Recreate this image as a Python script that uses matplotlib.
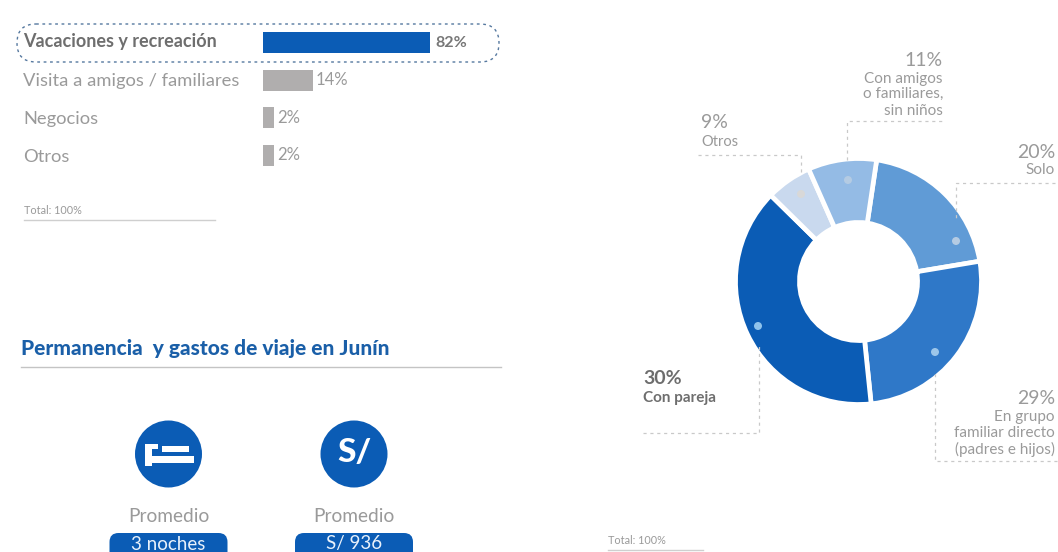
import matplotlib
matplotlib.use("Agg")
import matplotlib.pyplot as plt
from matplotlib.patches import Circle, FancyBboxPatch, Rectangle

# ---- data ----
motive_labels = ["Vacaciones y recreación", "Visita a amigos / familiares", "Negocios", "Otros"]
motive_values = ["82%", "14%", "2%", "2%"]
# drawn bar lengths (the original bars are not proportional to their labels)
motive_drawn = [82, 24.5, 5.5, 5.5]

group_names = ["Solo", "En grupo familiar directo", "Con pareja", "Otros", "Con amigos"]
# drawn slice shares
group_drawn = [20, 26, 39, 6, 9]
group_colors = ["#609bd6", "#2f78c8", "#0b5cb5", "#c9d9ee", "#94bbe5"]

title = "Permanencia  y gastos de viaje en Junín"
avg_label = "Promedio"
avg_values = ["3 noches", "S/ 936"]
total_label = "Total: 100%"

BLUE = "#0b5cb5"
GREY = "#9a9a9a"
FONT = "Lato"
plt.rcParams["font.family"] = [FONT, "DejaVu Sans"]

W, H = 1058, 552
fig = plt.figure(figsize=(W / 100, H / 100), dpi=100, facecolor="white")


def px_axes(left, top, right, bottom, **kw):
    return fig.add_axes([left / W, 1 - bottom / H, (right - left) / W, (bottom - top) / H], **kw)


# overlay in pixel units for the annotation furniture
ov = px_axes(0, 0, W, H)
ov.set_xlim(0, W)
ov.set_ylim(H, 0)
ov.axis("off")
ov.set_zorder(5)
ov.patch.set_alpha(0)

# ---- bars ----
bx = px_axes(263, 24, 263 + 2.04 * 100, 174)
bx.set_xlim(0, 100)
bx.set_ylim(3.5, -0.5)
bx.axis("off")
bar_colors = [BLUE, "#b0aeae", "#b0aeae", "#b0aeae"]
bx.barh(range(4), motive_drawn, height=0.56, color=bar_colors)
for i, (d, v) in enumerate(zip(motive_drawn, motive_values)):
    bold = i == 0
    bx.text(d + (2.5 if bold else 1.5), i, v, va="center", ha="left", fontsize=12 if not bold else 11.5,
            color="#777777" if bold else GREY, fontweight="bold" if bold else "normal")
label_y = [41, 81, 119, 157]
for i, (lab, y) in enumerate(zip(motive_labels, label_y)):
    bold = i == 0
    ov.text(23, y, lab, va="center", ha="left", fontsize=13 if bold else 13.2,
            color="#6e6e6e" if bold else GREY, fontweight="bold" if bold else "normal")

box = FancyBboxPatch((17, 24), 482, 38, boxstyle="round,pad=0,rounding_size=19",
                     fc="none", ec="#55789f", lw=1.0, ls=(0, (2, 2.6)))
ov.add_patch(box)

ov.text(24, 210, total_label, fontsize=7.8, color=GREY, va="center", ha="left")
ov.plot([24, 215], [220, 220], color="#cfcfcf", lw=1)
ov.text(608, 541, total_label, fontsize=7.8, color=GREY, va="center", ha="left")
ov.plot([608, 703], [550, 550], color="#cfcfcf", lw=1)

# ---- stay and spend section ----
ov.text(21, 348, title, fontsize=15, fontweight="black", color="#1a5fa8", va="center", ha="left")
ov.plot([21, 501], [366.5, 366.5], color="#c4c4c4", lw=1)

for cx, val in zip([168.5, 354], avg_values):
    ov.add_patch(Circle((cx, 454), 33.5, fc=BLUE, ec="none"))
    ov.text(cx, 516, avg_label, fontsize=13.8, color=GREY, ha="center", va="center")
    ov.add_patch(FancyBboxPatch((cx - 59, 533), 118, 30, boxstyle="round,pad=0,rounding_size=9",
                                fc=BLUE, ec="none"))
    ov.text(cx, 544, val, fontsize=13.5, color="#e8f1fb", ha="center", va="center")

# bed glyph
ov.add_patch(Rectangle((145, 444), 7, 22, fc="white", ec="none"))
ov.add_patch(Rectangle((145, 444), 13, 5, fc="white", ec="none"))
ov.add_patch(Rectangle((145, 456), 49, 7, fc="white", ec="none"))
ov.add_patch(Rectangle((162, 446), 27, 6, fc="white", ec="none"))
ov.text(354, 453, "S/", fontsize=24, fontweight="black", color="white", ha="center", va="center")

# ---- donut ----
R = 123
px = px_axes(858.5 - R, 281.5 - R, 858.5 + R, 281.5 + R)
px.pie(group_drawn, colors=group_colors, startangle=81.5, counterclock=False, radius=1,
       wedgeprops=dict(width=0.52, edgecolor="white", linewidth=3.4))
px.set_xlim(-1, 1)
px.set_ylim(-1, 1)

# ---- leader lines and labels ----
DASH = dict(color="#c9c9c9", lw=0.9, ls=(0, (2.5, 3)))
leaders = [
    ([847, 847, 945], [160, 121, 121], (848, 180)),
    ([698, 801, 801], [155, 155, 172], (801, 194)),
    ([1055, 956, 956], [183, 183, 220], (956, 241)),
    ([1057, 935, 935], [461, 461, 370], (935, 352)),
    ([643, 759, 759], [433, 433, 345], (758, 326)),
]
dot_colors = ["#b4cbe3", "#d8d8d8", "#b4cbe3", "#9cc6ea", "#8fc3ec"]
for (xs, ys, dot), c in zip(leaders, dot_colors):
    ov.plot(xs, ys, **DASH)
    ov.add_patch(Circle(dot, 4, fc=c, ec="none"))

PCT = 14
SUB = 11
labels = [
    (943, 60, "11%", "right", PCT, "normal"),
    (943, 79, "Con amigos", "right", SUB, "normal"),
    (943, 94, "o familiares,", "right", SUB, "normal"),
    (943, 111, "sin niños", "right", SUB, "normal"),
    (701, 123, "9%", "left", PCT, "normal"),
    (701, 142, "Otros", "left", 10.5, "normal"),
    (1055, 152, "20%", "right", PCT, "normal"),
    (1055, 170, "Solo", "right", SUB, "normal"),
    (1055, 398, "29%", "right", PCT, "normal"),
    (1055, 417, "En grupo", "right", SUB, "normal"),
    (1055, 433, "familiar directo", "right", SUB, "normal"),
    (1055, 449, "(padres e hijos)", "right", SUB, "normal"),
    (643, 379, "30%", "left", 14, "bold"),
    (643, 398, "Con pareja", "left", 11, "bold"),
]
for x, y, s, ha, fs, w in labels:
    ov.text(x, y, s, ha=ha, va="center", fontsize=fs, fontweight=w,
            color="#6e6e6e" if w == "bold" else GREY)

fig.savefig("out.png", dpi=100)
